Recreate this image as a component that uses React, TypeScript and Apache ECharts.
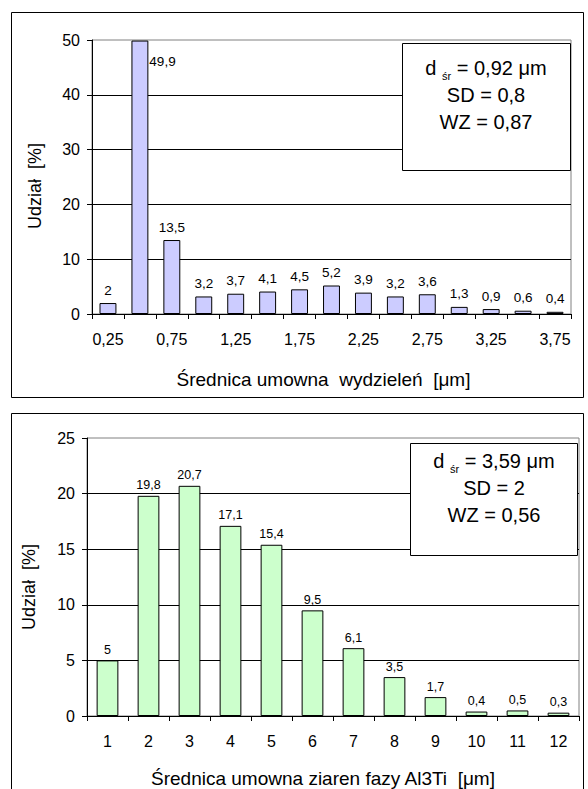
import React, { useEffect, useRef } from "react";
import * as echarts from "echarts";

const topCategories = ["0,25", "0,5", "0,75", "1", "1,25", "1,5", "1,75", "2", "2,25", "2,5", "2,75", "3", "3,25", "3,5", "3,75"];
const topValues = [2, 49.9, 13.5, 3.2, 3.7, 4.1, 4.5, 5.2, 3.9, 3.2, 3.6, 1.3, 0.9, 0.6, 0.4];
const topYTicks = [0, 10, 20, 30, 40, 50];
const topStats = ["0,92", "0,8", "0,87"];
const topXTitle = "Średnica umowna  wydzieleń  [μm]";

const bottomCategories = ["1", "2", "3", "4", "5", "6", "7", "8", "9", "10", "11", "12"];
const bottomValues = [5, 19.8, 20.7, 17.1, 15.4, 9.5, 6.1, 3.5, 1.7, 0.4, 0.5, 0.3];
const bottomYTicks = [0, 5, 10, 15, 20, 25];
const bottomStats = ["3,59", "2", "0,56"];
const bottomXTitle = "Średnica umowna ziaren fazy Al3Ti  [μm]";

const yTitle = "Udział  [%]";

const FONT = "Liberation Sans, Arial, sans-serif";
const fmt = (v: number) => String(v).replace(".", ",");

function statsText(s: string[]) {
  return `{t|d }{s|śr}{t| = ${s[0]} μm}\n{t|SD = ${s[1]}}\n{t|WZ = ${s[2]}}`;
}

export default function App() {
  const ref = useRef<HTMLDivElement>(null);
  useEffect(() => {
    if (!ref.current) return;
    const chart = echarts.init(ref.current, undefined, { renderer: "svg" });

    const axisLineStyle = { color: "#000", width: 1 };
    const yAxisCommon = (ticks: number[], gap: number, shift: number) => ({
      type: "value",
      min: ticks[0],
      max: ticks[ticks.length - 1],
      interval: ticks[1] - ticks[0],
      name: yTitle,
      nameLocation: "middle",
      nameGap: gap,
      nameTextStyle: { fontFamily: FONT, fontSize: 18, color: "#000", padding: [0, shift, 0, 0] },
      axisLine: { show: true, lineStyle: axisLineStyle },
      axisTick: { show: true, length: 5, lineStyle: axisLineStyle },
      axisLabel: { fontFamily: FONT, fontSize: 16, color: "#000", margin: 12, formatter: (v: number) => fmt(v) },
      splitLine: { show: true, showMinLine: false, showMaxLine: false, lineStyle: { color: "#000", width: 1 } },
    });

    const richStyle = {
      t: { fontFamily: FONT, fontSize: 20, lineHeight: 27, fill: "#000" },
      s: { fontFamily: FONT, fontSize: 11, lineHeight: 14, verticalAlign: "bottom", fill: "#000" },
    };

    const option: any = {
      animation: false,
      backgroundColor: "#fff",
      grid: [
        { left: 92, top: 40, width: 479, height: 274, show: true, borderColor: "#808080", borderWidth: 1, backgroundColor: "transparent" },
        { left: 87, top: 438, width: 492, height: 279, show: true, borderColor: "#808080", borderWidth: 1, backgroundColor: "transparent" },
      ],
      xAxis: [
        {
          type: "category",
          gridIndex: 0,
          data: topCategories,
          name: topXTitle,
          nameLocation: "middle",
          nameGap: 56,
          nameTextStyle: { fontFamily: FONT, fontSize: 19, color: "#000", padding: [0, 16, 0, 0] },
          axisLine: { lineStyle: axisLineStyle },
          axisTick: { show: true, interval: 0, length: 5, lineStyle: axisLineStyle },
          axisLabel: { interval: 1, fontFamily: FONT, fontSize: 16, color: "#000", margin: 17 },
        },
        {
          type: "category",
          gridIndex: 1,
          data: bottomCategories,
          name: bottomXTitle,
          nameLocation: "middle",
          nameGap: 53,
          nameTextStyle: { fontFamily: FONT, fontSize: 19, color: "#000", padding: [0, 20, 0, 0] },
          axisLine: { lineStyle: axisLineStyle },
          axisTick: { show: true, interval: 0, length: 5, lineStyle: axisLineStyle },
          axisLabel: { interval: 0, fontFamily: FONT, fontSize: 16, color: "#000", margin: 17 },
        },
      ],
      yAxis: [
        { ...yAxisCommon(topYTicks, 48, 18), gridIndex: 0 },
        { ...yAxisCommon(bottomYTicks, 49, 20), gridIndex: 1 },
      ],
      series: [
        {
          type: "bar",
          xAxisIndex: 0,
          yAxisIndex: 0,
          barWidth: "53%",
          itemStyle: { color: "#CCCCFF", borderColor: "#000", borderWidth: 1 },
          label: {
            show: true,
            position: "top",
            distance: 6,
            fontFamily: FONT,
            fontSize: 13.5,
            color: "#000",
            formatter: (p: any) => fmt(p.value),
          },
          data: topValues.map((v, i) =>
            i === 1
              ? { value: v, label: { position: ["100%", 21], align: "left", verticalAlign: "middle", offset: [1, 0] } }
              : v
          ),
        },
        {
          type: "bar",
          xAxisIndex: 1,
          yAxisIndex: 1,
          barWidth: "53%",
          itemStyle: { color: "#CCFFCC", borderColor: "#000", borderWidth: 1 },
          label: {
            show: true,
            position: "top",
            distance: 4,
            fontFamily: FONT,
            fontSize: 12.5,
            color: "#000",
            formatter: (p: any) => fmt(p.value),
          },
          data: bottomValues,
        },
      ],
      graphic: [
        { type: "rect", z: 100, silent: true, shape: { x: 11.5, y: 12.5, width: 572, height: 385 }, style: { fill: "none", stroke: "#000", lineWidth: 1 } },
        { type: "rect", z: 100, silent: true, shape: { x: 11.5, y: 413.5, width: 572, height: 400 }, style: { fill: "none", stroke: "#000", lineWidth: 1 } },
        { type: "rect", z: 100, silent: true, shape: { x: 402.5, y: 43.5, width: 168, height: 127 }, style: { fill: "#fff", stroke: "#000", lineWidth: 1 } },
        {
          type: "text", z: 101, silent: true, x: 486, y: 94.5,
          style: { text: statsText(topStats), align: "center", verticalAlign: "middle", fill: "#000", rich: richStyle },
        },
        { type: "rect", z: 100, silent: true, shape: { x: 410.5, y: 443.5, width: 167, height: 112 }, style: { fill: "#fff", stroke: "#000", lineWidth: 1 } },
        {
          type: "text", z: 101, silent: true, x: 494, y: 487.5,
          style: { text: statsText(bottomStats), align: "center", verticalAlign: "middle", fill: "#000", rich: richStyle },
        },
      ],
    };

    chart.setOption(option);
    return () => chart.dispose();
  }, []);

  return <div ref={ref} style={{ position: "absolute", left: 0, top: 0, width: 588, height: 789 }} />;
}
